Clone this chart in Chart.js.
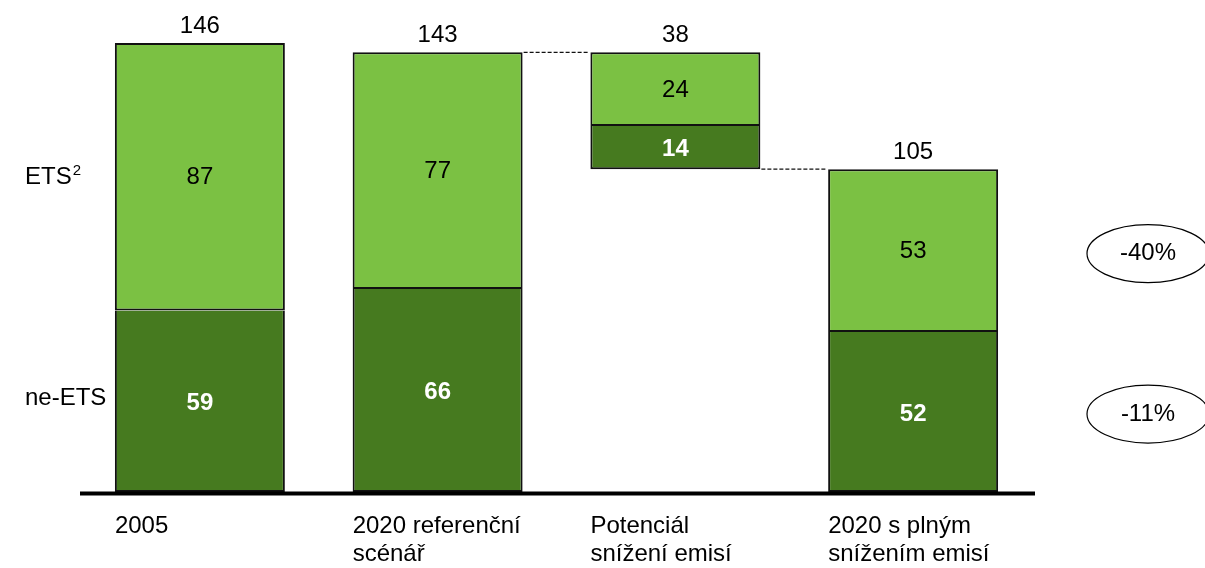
<!DOCTYPE html>
<html>
<head>
<meta charset="utf-8">
<script src="https://cdn.jsdelivr.net/npm/chart.js@4/dist/chart.umd.min.js"></script>
<style>
  html, body { margin: 0; padding: 0; background: #fff; }
</style>
</head>
<body>
<canvas id="chart" width="1205" height="568"></canvas>
<script>
// data
const categories = [['2005'], ['2020 referenční', 'scénář'], ['Potenciál', 'snížení emisí'], ['2020 s plným', 'snížením emisí']];
const neEts = [59, 66, 14, 52];
const ets = [87, 77, 24, 53];
const base = [0, 0, 105, 0];
const rowLabels = ['ETS', 'ne-ETS'];
const changeLabels = ['-40%', '-11%'];

const lightGreen = '#7BC143';
const darkGreen = '#467A1F';
const FONT = '"Liberation Sans", Arial, sans-serif';

const darkData = neEts.map((v, i) => [base[i], base[i] + v]);
const lightData = ets.map((v, i) => [base[i] + neEts[i], base[i] + neEts[i] + v]);

const annotate = {
    id: 'annotate',
    afterDatasetsDraw(chart) {
        const ctx = chart.ctx;
        const area = chart.chartArea;
        const yScale = chart.scales.y;
        const dark = chart.getDatasetMeta(0).data;
        const light = chart.getDatasetMeta(1).data;
        const y0 = yScale.getPixelForValue(0);
        ctx.save();

        // connectors between the waterfall steps
        ctx.strokeStyle = '#111';
        ctx.lineWidth = 1.2;
        ctx.setLineDash([4, 2]);
        ctx.beginPath();
        ctx.moveTo(light[1].x + light[1].width / 2 + 1, light[1].y);
        ctx.lineTo(light[2].x - light[2].width / 2 - 1, light[1].y);
        ctx.moveTo(dark[2].x + dark[2].width / 2 + 1, dark[2].base);
        ctx.lineTo(light[3].x - light[3].width / 2 - 1, dark[2].base);
        ctx.stroke();
        ctx.setLineDash([]);

        // axis line
        ctx.strokeStyle = '#000';
        ctx.lineWidth = 4;
        ctx.beginPath();
        ctx.moveTo(area.left - 1, y0 + 1.5);
        ctx.lineTo(area.right + 3, y0 + 1.5);
        ctx.stroke();

        ctx.textAlign = 'center';
        ctx.textBaseline = 'middle';
        categories.forEach((cat, i) => {
            const d = dark[i], l = light[i];
            ctx.fillStyle = '#fff';
            ctx.font = 'bold 24px ' + FONT;
            ctx.fillText(neEts[i], d.x, (d.y + d.base) / 2 + 2);
            ctx.fillStyle = '#000';
            ctx.font = '24px ' + FONT;
            ctx.fillText(ets[i], l.x, (l.y + l.base) / 2 + 1);
            ctx.fillText(neEts[i] + ets[i], l.x, l.y - 17);

            ctx.textAlign = 'left';
            cat.forEach((line, k) => {
                ctx.fillText(line, d.x - d.width / 2, y0 + 34 + k * 28);
            });
            ctx.textAlign = 'center';
        });

        // row labels on the left
        ctx.textAlign = 'left';
        ctx.font = '24px ' + FONT;
        const ly = (light[0].y + light[0].base) / 2 + 1;
        ctx.fillText(rowLabels[0], 25, ly);
        const w = ctx.measureText(rowLabels[0]).width;
        ctx.font = '15px ' + FONT;
        ctx.fillText('2', 25 + w + 1, ly - 7);
        ctx.font = '24px ' + FONT;
        ctx.fillText(rowLabels[1], 25, (dark[0].y + dark[0].base) / 2 - 3);

        // change bubbles on the right
        ctx.textAlign = 'center';
        ctx.lineWidth = 1.2;
        ctx.strokeStyle = '#000';
        const cy = [(light[3].y + light[3].base) / 2 + 3, (dark[3].y + dark[3].base) / 2 + 2];
        changeLabels.forEach((t, k) => {
            ctx.beginPath();
            ctx.ellipse(1148, cy[k], 61, 29, 0, 0, Math.PI * 2);
            ctx.stroke();
            ctx.fillText(t, 1148, cy[k]);
        });
        ctx.restore();
    }
};

new Chart(document.getElementById('chart'), {
    type: 'bar',
    data: {
        labels: categories,
        datasets: [
            { label: 'ne-ETS', data: darkData, backgroundColor: darkGreen,
              borderWidth: { top: 0, left: 2, right: 2, bottom: 2 } },
            { label: 'ETS', data: lightData, backgroundColor: lightGreen, borderWidth: 2 }
        ]
    },
    options: {
        responsive: false,
        animation: false,
        layout: { padding: { left: 81, right: 173, top: 0, bottom: 76 } },
        datasets: {
            bar: {
                grouped: false,
                barPercentage: 1,
                categoryPercentage: 0.715,
                borderColor: '#111',
                borderSkipped: false
            }
        },
        plugins: { legend: { display: false }, tooltip: { enabled: false } },
        scales: {
            x: { display: false },
            y: { display: false, min: 0, max: 160 }
        }
    },
    plugins: [annotate]
});
</script>
</body>
</html>
